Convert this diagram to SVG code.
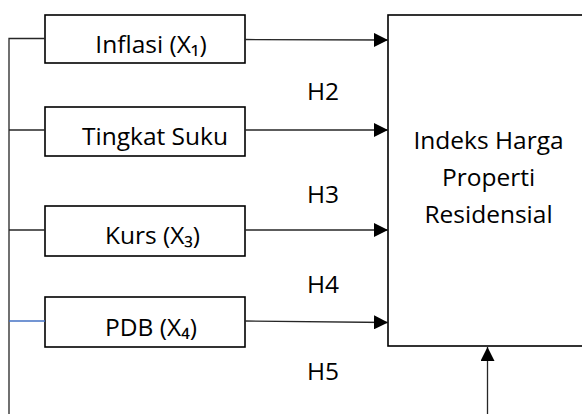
<svg xmlns="http://www.w3.org/2000/svg" width="582" height="414" viewBox="0 0 582 414">
<style>
.box{fill:#fff;stroke:#000;stroke-width:1.6}
.ln{stroke:#262626;stroke-width:1.3;fill:none}
.t{font-family:"Open Sans","Noto Sans",sans-serif;font-size:24.5px;fill:#000}
.m{text-anchor:middle}
</style>
<defs>
<marker id="ah" markerWidth="14" markerHeight="14" viewBox="0 0 14 14" refX="14" refY="7" orient="auto" markerUnits="userSpaceOnUse">
<path d="M0,0 L14,7 L0,14 Z" fill="#000"/>
</marker>
</defs>
<g id="n_y">
<rect class="box" x="388" y="15" width="220" height="331"/>
<text class="t m" x="488.5" y="149">Indeks Harga</text>
<text class="t m" x="488.5" y="186">Properti</text>
<text class="t m" x="488.5" y="222.5">Residensial</text>
</g>
<g id="n_x1">
<rect class="box" x="45" y="15" width="200" height="48"/>
<text class="t m" x="151" y="53">Inflasi (X₁)</text>
</g>
<g id="n_x2">
<rect class="box" x="45" y="107" width="200" height="49"/>
<text class="t m" x="155" y="145">Tingkat Suku</text>
</g>
<g id="n_x3">
<rect class="box" x="45" y="206" width="200" height="50"/>
<text class="t m" x="152.5" y="243.5">Kurs (X₃)</text>
</g>
<g id="n_x4">
<rect class="box" x="45" y="297" width="200" height="50"/>
<text class="t m" x="151" y="335.5">PDB (X₄)</text>
</g>
<g id="connectors">
<path class="ln" d="M9,414 V38.5 H45"/>
<path class="ln" d="M9,130 H45"/>
<path class="ln" d="M9,230 H45"/>
<path class="ln" d="M9,321 H45" style="stroke:#4472C4"/>
<path class="ln" d="M245,39.5 L388,40" marker-end="url(#ah)"/>
<path class="ln" d="M245,130 L388,130" marker-end="url(#ah)"/>
<path class="ln" d="M245,230 L388,230" marker-end="url(#ah)"/>
<path class="ln" d="M245,321 L388,322.5" marker-end="url(#ah)"/>
<path class="ln" d="M487.5,414 V347" marker-end="url(#ah)"/>
</g>
<g id="labels">
<text class="t" x="307" y="100">H2</text>
<text class="t" x="307" y="203">H3</text>
<text class="t" x="307" y="293">H4</text>
<text class="t" x="307" y="380">H5</text>
</g>
</svg>
